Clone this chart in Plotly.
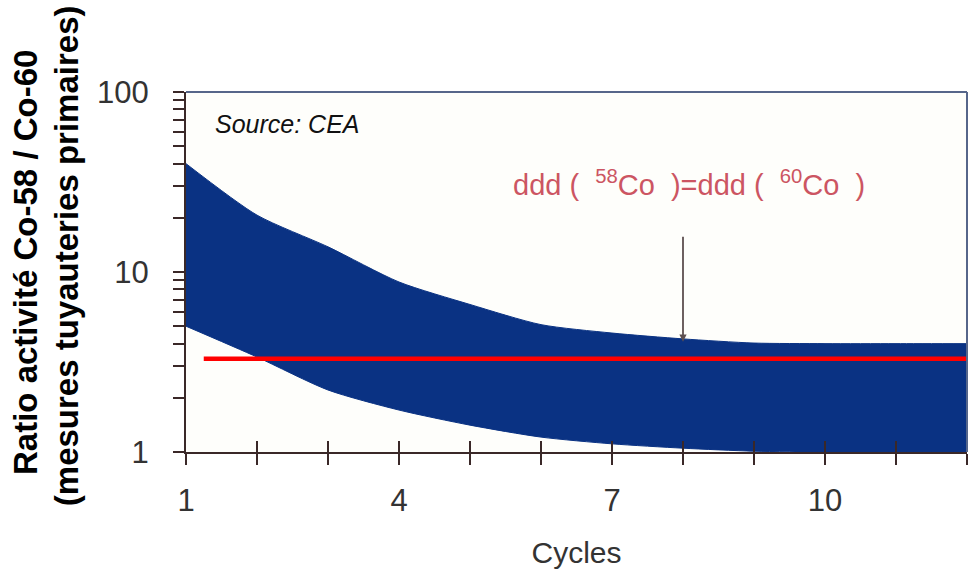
import numpy as np
import plotly.graph_objects as go

# ---- data ----
cycles = [1, 2, 3, 4, 5, 6, 7, 8, 9, 10, 11, 12]
ratio_upper = [40, 20.7, 13.8, 8.8, 6.6, 5.1, 4.58, 4.25, 4.03, 4.0, 4.0, 4.0]
ratio_lower = [5.0, 3.37, 2.21, 1.71, 1.41, 1.21, 1.11, 1.05, 1.01, 1.0, 1.0, 1.0]
threshold_x = [1.25, 12]
threshold_y = [3.3, 3.3]

x_major_ticks = [1, 4, 7, 10]
x_major_text = ["1", "4", "7", "10"]
x_all_ticks = list(range(1, 13))
y_major_ticks = [1, 10, 100]
y_major_text = ["1", "10", "100"]
y_minor_ticks = [2, 3, 4, 5, 6, 7, 8, 9, 20, 30, 40, 50, 60, 70, 80, 90]

arrow_x = 8
arrow_tip = 4.1
arrow_tail = 16
label_x = 8.08
label_y = 31.2
source_x = 1.38
source_y = 66

NAVY = "#0a3283"
AXIS = "#3a2828"
FONT = "Liberation Sans, Arial, sans-serif"

fig = go.Figure()

fig.add_trace(go.Scatter(
    x=cycles, y=ratio_lower, mode="lines",
    line=dict(color=NAVY, width=1, shape="spline", smoothing=0.7),
    hoverinfo="skip", showlegend=False))
fig.add_trace(go.Scatter(
    x=cycles, y=ratio_upper, mode="lines", fill="tonexty", fillcolor=NAVY,
    line=dict(color=NAVY, width=1, shape="spline", smoothing=0.7),
    hoverinfo="skip", showlegend=False))

fig.add_trace(go.Scatter(
    x=threshold_x, y=threshold_y, mode="lines",
    line=dict(color="#ff0000", width=4.5), showlegend=False))

# invisible trace so the overlay x axis is drawn
fig.add_trace(go.Scatter(x=[1], y=[1], xaxis="x2", mode="markers",
                         marker=dict(opacity=0), showlegend=False, hoverinfo="skip"))

fig.update_layout(
    width=969, height=572,
    margin=dict(l=186, r=2, t=92, b=120),
    paper_bgcolor="#ffffff", plot_bgcolor="#fefefb",
    font=dict(family=FONT, color="#333333"),
    xaxis=dict(
        range=[1, 12], tickmode="array", tickvals=x_major_ticks, ticktext=x_major_text,
        ticks="outside", ticklen=11, tickwidth=2, tickcolor=AXIS,
        minor=dict(tickmode="array", tickvals=x_all_ticks, ticks="outside",
                   ticklen=11, tickwidth=2, tickcolor=AXIS, showgrid=False),
        showline=True, linecolor=AXIS, linewidth=2, showgrid=False, zeroline=False,
        tickfont=dict(size=31, color="#333333"), ticklabelstandoff=9,
        title=dict(text="Cycles", font=dict(size=30, color="#333333"), standoff=25),
    ),
    xaxis2=dict(
        range=[1, 12], overlaying="x", anchor="y", side="bottom",
        tickmode="array", tickvals=x_all_ticks, ticks="inside", ticklen=11,
        tickwidth=2, tickcolor=AXIS, showticklabels=False, showgrid=False,
        zeroline=False, showline=False,
    ),
    yaxis=dict(
        type="log", range=[0, 2], tickmode="array", tickvals=y_major_ticks,
        ticktext=y_major_text, ticks="outside", ticklen=11, tickwidth=2,
        tickcolor=AXIS,
        minor=dict(tickmode="array", tickvals=y_minor_ticks, ticks="outside",
                   ticklen=11, tickwidth=2, tickcolor=AXIS, showgrid=False),
        showline=True, linecolor=AXIS, linewidth=2,
        showgrid=False, zeroline=False,
        tickfont=dict(size=31, color="#333333"), ticklabelstandoff=18,
    ),
)

# top and right frame
fig.add_shape(type="line", xref="paper", yref="paper", x0=0, x1=1, y0=1, y1=1,
              line=dict(color="#56668a", width=2))
fig.add_shape(type="line", xref="paper", yref="paper", x0=1, x1=1, y0=0, y1=1,
              line=dict(color="#56668a", width=2))

# y axis title (two lines)
fig.add_annotation(
    text="<b>Ratio activité Co-58 / Co-60</b>",
    xref="paper", yref="paper", x=-0.2061, y=0.525, xanchor="center", yanchor="middle",
    textangle=-90, showarrow=False, font=dict(size=33, color="#000000", family=FONT))
fig.add_annotation(
    text="<b>(mesures tuyauteries primaires)</b>",
    xref="paper", yref="paper", x=-0.1536, y=0.544, xanchor="center", yanchor="middle",
    textangle=-90, showarrow=False, font=dict(size=33, color="#000000", family=FONT))

fig.add_annotation(
    text="<i>Source: CEA</i>", x=source_x, y=np.log10(source_y),
    xanchor="left", yanchor="middle", showarrow=False,
    font=dict(size=25, color="#111111", family=FONT))

fig.add_annotation(
    text="ddd (  <sup>58</sup>Co  )=ddd (  <sup>60</sup>Co  )",
    x=label_x, y=np.log10(label_y), xanchor="center", yanchor="middle",
    showarrow=False, font=dict(size=29, color="#cc5562", family=FONT))

fig.add_annotation(
    x=arrow_x, y=np.log10(arrow_tip), ax=arrow_x, ay=np.log10(arrow_tail),
    axref="x", ayref="y", xref="x", yref="y", text="", showarrow=True,
    arrowhead=2, arrowsize=0.8, arrowwidth=1.8, arrowcolor="#5e5050")

fig.write_html("out.html", config={"displayModeBar": False},
               post_script="document.body.style.margin='0';")
